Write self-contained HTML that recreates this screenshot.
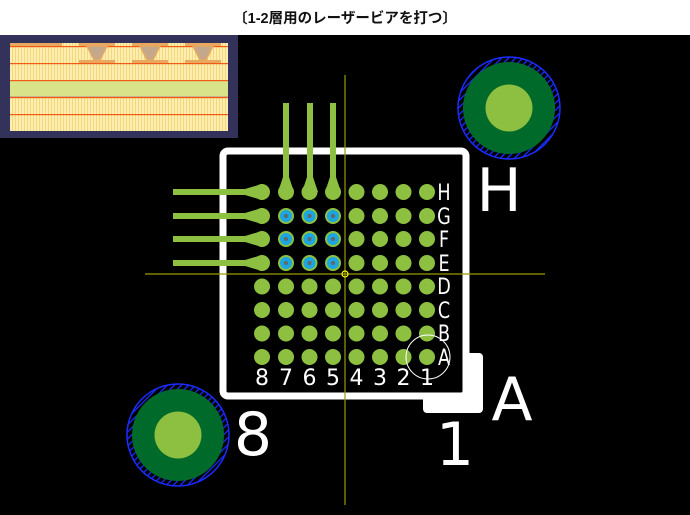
<!DOCTYPE html>
<html><head><meta charset="utf-8"><style>
html,body{margin:0;padding:0;width:690px;height:515px;overflow:hidden;background:#000}
svg{display:block}
</style></head><body>
<svg width="690" height="515" viewBox="0 0 690 515" xmlns="http://www.w3.org/2000/svg">
<defs>
<pattern id="stripe" width="3" height="10" patternUnits="userSpaceOnUse"><rect width="3" height="10" fill="#fbeeb0"/><rect width="1" height="10" fill="#f3d77a"/></pattern>
<pattern id="hatch" width="5" height="5" patternUnits="userSpaceOnUse" patternTransform="rotate(45)"><rect width="5" height="5" fill="#000"/><rect width="1.3" height="5" fill="#1a2cff"/></pattern>
</defs>
<rect width="690" height="515" fill="#000"/>
<rect width="690" height="35" fill="#fff"/>
<text x="345" y="23" text-anchor="middle" font-family="'Liberation Sans','Noto Sans CJK JP',sans-serif" font-size="14.5" font-weight="bold" fill="#111">〔1-2層用のレーザービアを打つ〕</text>
<!-- thumbnail -->
<rect x="0" y="35" width="238" height="103" fill="#33325a"/>
<rect x="10" y="43" width="218" height="88" fill="url(#stripe)"/>
<rect x="10" y="80" width="218" height="17" fill="#d8e38a"/>
<rect x="10" y="96" width="218" height="2" fill="#c9b38a"/>
<g fill="#f05a14">
<rect x="10" y="46" width="218" height="1.2"/><rect x="10" y="63" width="218" height="1.2"/><rect x="10" y="80" width="218" height="1.2"/><rect x="10" y="97" width="218" height="1.2"/><rect x="10" y="114" width="218" height="1.2"/></g>
<rect x="10" y="43" width="52" height="3" fill="#e8a860"/>
<g fill="#e8a860">
<rect x="79" y="43" width="36" height="3"/><rect x="79" y="60" width="36" height="3"/>
<rect x="132" y="43" width="36" height="3"/><rect x="132" y="60" width="36" height="3"/>
<rect x="185" y="43" width="36" height="3"/><rect x="185" y="60" width="36" height="3"/></g>
<g fill="#c4a88c" stroke="#e8a860" stroke-width="1.5">
<polygon points="87,46 107,46 100,60 94,60"/><polygon points="140,46 160,46 153,60 147,60"/><polygon points="193,46 213,46 206,60 200,60"/></g>
<!-- pads -->
<circle cx="509" cy="108" r="51" fill="url(#hatch)" stroke="#1a2cff" stroke-width="1.5"/>
<circle cx="509" cy="108" r="46" fill="#006a2a"/>
<circle cx="509" cy="108" r="23.5" fill="#8dc040"/>
<circle cx="178" cy="435" r="51" fill="url(#hatch)" stroke="#1a2cff" stroke-width="1.5"/>
<circle cx="178" cy="435" r="46" fill="#006a2a"/>
<circle cx="178" cy="435" r="23.5" fill="#8dc040"/>
<!-- frame -->
<rect x="423" y="353" width="60" height="60" rx="4" fill="#fff"/>
<rect x="223" y="151" width="243" height="245" rx="5" fill="#000" stroke="#fff" stroke-width="7"/>
<!-- crosshair -->
<line x1="345" y1="75" x2="345" y2="505" stroke="#9a9a00" stroke-width="1.2"/>
<line x1="145" y1="274" x2="545" y2="274" stroke="#9a9a00" stroke-width="1.2"/>
<!-- traces -->
<g fill="#8dc040">
<rect x="173" y="189" width="80" height="6"/><rect x="173" y="213" width="80" height="6"/><rect x="173" y="236" width="80" height="6"/><rect x="173" y="260" width="80" height="6"/>
<polygon points="245,189 262,184 262,200 245,195"/><polygon points="245,213 262,208 262,224 245,219"/><polygon points="245,236 262,231 262,247 245,242"/><polygon points="245,260 262,255 262,271 245,266"/>
<rect x="283" y="103" width="6" height="80"/><rect x="307" y="103" width="6" height="80"/><rect x="330" y="103" width="6" height="80"/>
<polygon points="283,177 278,192 294,192 289,177"/><polygon points="307,177 302,192 318,192 313,177"/><polygon points="330,177 325,192 341,192 336,177"/>
</g>
<g fill="#8dc040">
<circle cx="262" cy="192" r="8"/><circle cx="286" cy="192" r="8"/><circle cx="309.5" cy="192" r="8"/><circle cx="333" cy="192" r="8"/><circle cx="356.5" cy="192" r="8"/><circle cx="380" cy="192" r="8"/><circle cx="403.5" cy="192" r="8"/><circle cx="427" cy="192" r="8"/>
<circle cx="262" cy="216" r="8"/><circle cx="286" cy="216" r="8"/><circle cx="309.5" cy="216" r="8"/><circle cx="333" cy="216" r="8"/><circle cx="356.5" cy="216" r="8"/><circle cx="380" cy="216" r="8"/><circle cx="403.5" cy="216" r="8"/><circle cx="427" cy="216" r="8"/>
<circle cx="262" cy="239" r="8"/><circle cx="286" cy="239" r="8"/><circle cx="309.5" cy="239" r="8"/><circle cx="333" cy="239" r="8"/><circle cx="356.5" cy="239" r="8"/><circle cx="380" cy="239" r="8"/><circle cx="403.5" cy="239" r="8"/><circle cx="427" cy="239" r="8"/>
<circle cx="262" cy="263" r="8"/><circle cx="286" cy="263" r="8"/><circle cx="309.5" cy="263" r="8"/><circle cx="333" cy="263" r="8"/><circle cx="356.5" cy="263" r="8"/><circle cx="380" cy="263" r="8"/><circle cx="403.5" cy="263" r="8"/><circle cx="427" cy="263" r="8"/>
<circle cx="262" cy="286.5" r="8"/><circle cx="286" cy="286.5" r="8"/><circle cx="309.5" cy="286.5" r="8"/><circle cx="333" cy="286.5" r="8"/><circle cx="356.5" cy="286.5" r="8"/><circle cx="380" cy="286.5" r="8"/><circle cx="403.5" cy="286.5" r="8"/><circle cx="427" cy="286.5" r="8"/>
<circle cx="262" cy="310" r="8"/><circle cx="286" cy="310" r="8"/><circle cx="309.5" cy="310" r="8"/><circle cx="333" cy="310" r="8"/><circle cx="356.5" cy="310" r="8"/><circle cx="380" cy="310" r="8"/><circle cx="403.5" cy="310" r="8"/><circle cx="427" cy="310" r="8"/>
<circle cx="262" cy="333.5" r="8"/><circle cx="286" cy="333.5" r="8"/><circle cx="309.5" cy="333.5" r="8"/><circle cx="333" cy="333.5" r="8"/><circle cx="356.5" cy="333.5" r="8"/><circle cx="380" cy="333.5" r="8"/><circle cx="403.5" cy="333.5" r="8"/><circle cx="427" cy="333.5" r="8"/>
<circle cx="262" cy="357" r="8"/><circle cx="286" cy="357" r="8"/><circle cx="309.5" cy="357" r="8"/><circle cx="333" cy="357" r="8"/><circle cx="356.5" cy="357" r="8"/><circle cx="380" cy="357" r="8"/><circle cx="403.5" cy="357" r="8"/><circle cx="427" cy="357" r="8"/>
</g>
<g fill="#1aa6e0"><circle cx="286" cy="216" r="6"/><circle cx="309.5" cy="216" r="6"/><circle cx="333" cy="216" r="6"/><circle cx="286" cy="239" r="6"/><circle cx="309.5" cy="239" r="6"/><circle cx="333" cy="239" r="6"/><circle cx="286" cy="263" r="6"/><circle cx="309.5" cy="263" r="6"/><circle cx="333" cy="263" r="6"/></g>
<g fill="#666"><circle cx="286" cy="216" r="2"/><circle cx="309.5" cy="216" r="2"/><circle cx="333" cy="216" r="2"/><circle cx="286" cy="239" r="2"/><circle cx="309.5" cy="239" r="2"/><circle cx="333" cy="239" r="2"/><circle cx="286" cy="263" r="2"/><circle cx="309.5" cy="263" r="2"/><circle cx="333" cy="263" r="2"/></g>
<circle cx="345" cy="274" r="3" fill="none" stroke="#ffff00" stroke-width="1.2"/>
<circle cx="428" cy="357" r="22" fill="none" stroke="#fff" stroke-width="1"/>
<!-- labels -->
<g fill="#fff" font-family="'DejaVu Sans',sans-serif" font-size="22" text-anchor="middle">
<g transform="translate(444,0) scale(0.8,1)">
<text x="0" y="200">H</text><text x="0" y="224">G</text><text x="0" y="247">F</text><text x="0" y="271">E</text><text x="0" y="294">D</text><text x="0" y="318">C</text><text x="0" y="341">B</text><text x="0" y="365">A</text>
</g>
<g transform="translate(0,385) scale(1,1)">
<text x="262" y="0">8</text><text x="286" y="0">7</text><text x="309.5" y="0">6</text><text x="333" y="0">5</text><text x="356.5" y="0">4</text><text x="380" y="0">3</text><text x="403.5" y="0">2</text><text x="427" y="0">1</text>
</g>
</g>
<g fill="#fff" font-family="'DejaVu Sans',sans-serif" font-size="60" text-anchor="middle">
<text x="499" y="211">H</text>
<text x="253" y="455">8</text>
<text x="512" y="420">A</text>
<text x="455" y="465">1</text>
</g>
</svg>
</body></html>
